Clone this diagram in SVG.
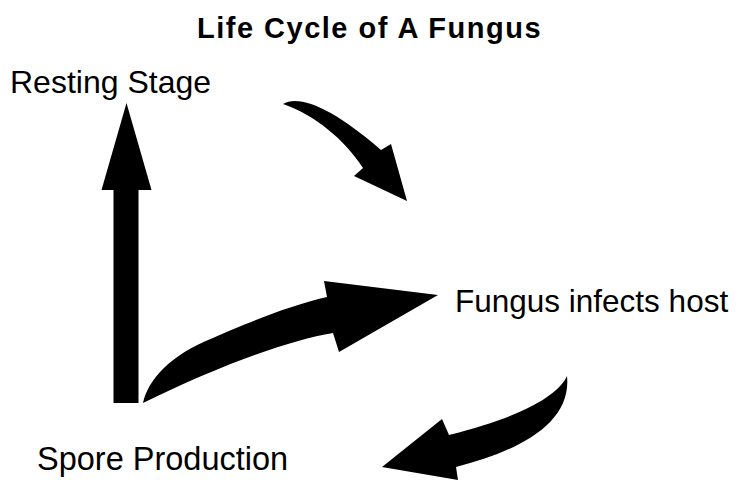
<svg xmlns="http://www.w3.org/2000/svg" width="738" height="490" viewBox="0 0 738 490">
<style>
.t{font-family:"Liberation Sans",Arial,sans-serif;fill:#000}
.lbl{font-size:32px}
.title{font-size:29px;font-weight:bold;letter-spacing:1.5px}
.arr{fill:#000;stroke:none}
</style>
<rect width="738" height="490" fill="#fff"/>
<text class="t title" x="197" y="38">Life Cycle of A Fungus</text>
<g id="resting"><text class="t lbl" x="10" y="93">Resting Stage</text></g>
<g id="infects"><text class="t lbl" x="455" y="312" style="font-size:31.5px">Fungus infects host</text></g>
<g id="spore"><text class="t lbl" x="37" y="470" style="font-size:32.5px">Spore Production</text></g>
<g id="connectors">
<polygon class="arr" points="113.5,403 113.5,190 101.5,190 126.5,103 151.5,190 138.5,190 138.5,403"/>
<path class="arr" d="M283,104 C300,94 335,110 381,150 L391,144 L407,201 L354,176 L363,168 C345,140 315,115 283,104 Z"/>
<path class="arr" d="M143,403 C148,380 170,355 213,338 C240,326 290,305 327,297 L324,281 L438,295 L339,352 L333,333 C290,340 220,365 143,403 Z"/>
<path class="arr" d="M567,376 C560,392 530,415 449,435 L442,419 L382,467 L458,480 L456,467 C515,452 572,425 567,376 Z"/>
</g>
</svg>
